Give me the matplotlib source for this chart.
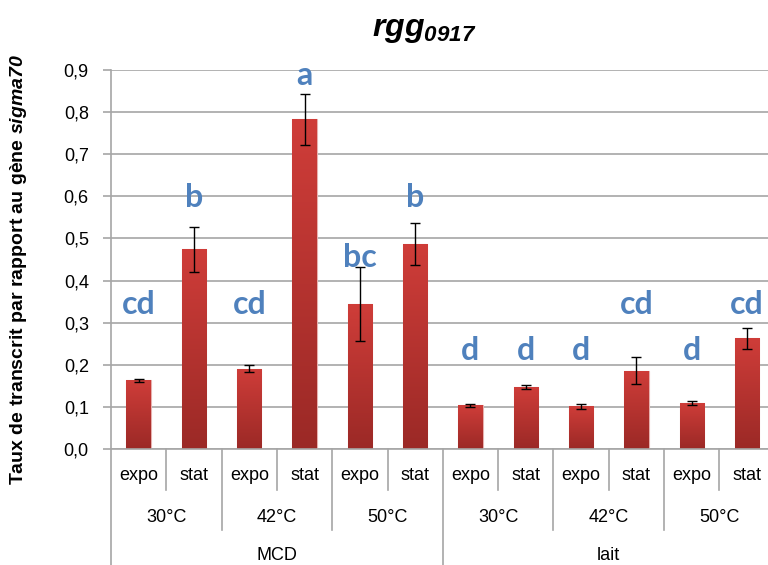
import matplotlib
matplotlib.use("Agg")
import matplotlib.pyplot as plt
import numpy as np
from matplotlib.colors import LinearSegmentedColormap
from matplotlib.ticker import FuncFormatter

plt.rcParams["font.family"] = ["Liberation Sans Narrow", "Liberation Sans", "DejaVu Sans"]
plt.rcParams["mathtext.fontset"] = "custom"
plt.rcParams["mathtext.bfit"] = "Liberation Sans:bold:italic"
plt.rcParams["mathtext.it"] = "Liberation Sans:italic"

# données
phases = ["expo", "stat"] * 6
temps = ["30°C", "42°C", "50°C", "30°C", "42°C", "50°C"]
milieux = ["MCD", "lait"]
values = [0.163, 0.474, 0.191, 0.783, 0.344, 0.486,
          0.104, 0.148, 0.102, 0.186, 0.110, 0.263]
errors = [0.003, 0.054, 0.009, 0.061, 0.088, 0.050,
          0.004, 0.005, 0.006, 0.032, 0.005, 0.025]
letters = ["cd", "b", "cd", "a", "bc", "b", "d", "d", "d", "cd", "d", "cd"]
letter_y = [0.342, 0.598, 0.342, 0.888, 0.454, 0.598,
            0.235, 0.235, 0.235, 0.342, 0.235, 0.342]

fig = plt.figure(figsize=(7.68, 5.65), dpi=100)
ax = fig.add_axes([111 / 768, 1 - 449 / 565, 1 - 111 / 768, 379 / 565])

x = np.arange(len(values))
grid_col = "#a6a6a6"
ax.set_yticks(np.arange(0, 0.91, 0.1))
ax.yaxis.set_major_formatter(FuncFormatter(lambda v, p: f"{v:.1f}".replace(".", ",")))
ax.grid(axis="y", color=grid_col, linewidth=1.2)
ax.set_axisbelow(True)
for s in ["top", "right"]:
    ax.spines[s].set_visible(False)
for s in ["left", "bottom"]:
    ax.spines[s].set_color(grid_col)
    ax.spines[s].set_linewidth(1.2)
ax.tick_params(axis="y", length=6, color=grid_col, width=1.2, labelsize=13, pad=10)
ax.tick_params(axis="x", length=0, labelbottom=False)

# barres avec dégradé
cmap = LinearSegmentedColormap.from_list("rouge", ["#9b2926", "#cf3d39"])
bars = ax.bar(x, values, width=0.44, color="#c0392b", edgecolor="#e7b0ae",
              linewidth=0.8, zorder=2)
grad = np.linspace(0, 1, 256).reshape(-1, 1)
for b in bars:
    im = ax.imshow(grad, cmap=cmap, origin="lower", aspect="auto", zorder=2,
                   extent=[b.get_x(), b.get_x() + b.get_width(), 0, b.get_height()])
    im.set_clip_path(b)
ax.set_xlim(-0.5, 11.38)
ax.set_ylim(0, 0.9)
ax.errorbar(x, values, yerr=errors, fmt="none", ecolor="black", elinewidth=1,
            capsize=3.5, capthick=1, zorder=3)

for xi, lab, ly in zip(x, letters, letter_y):
    ax.text(xi, ly, lab, ha="center", va="center", fontsize=23, fontweight="bold",
            color="#4f81bd", family=["Lato", "DejaVu Sans"], zorder=4)

# axe des x hiérarchique
tr = ax.get_xaxis_transform()
lk = dict(color=grid_col, linewidth=1.2, clip_on=False, transform=tr)
for i in range(len(values)):
    ax.text(i, -0.071, phases[i], ha="center", va="center", fontsize=13, transform=tr)
for j, t in enumerate(temps):
    ax.text(2 * j + 0.5, -0.182, t, ha="center", va="center", fontsize=13, transform=tr)
for k, m in enumerate(milieux):
    ax.text(6 * k + 2.5, -0.28, m, ha="center", va="center", fontsize=13, transform=tr)
for b in np.arange(-0.5, 11.5, 1.0):
    if b == -0.5 or b == 5.5:
        y0 = -0.32
    elif (b + 0.5) % 2 == 0:
        y0 = -0.214
    else:
        y0 = -0.108
    ax.plot([b, b], [0, y0], **lk)

fig.text(424 / 768, 1 - 30 / 565, r"$\mathbfit{rgg}_{\mathbfit{0917}}$",
         ha="center", va="center", fontsize=23)
fig.text(19 / 768, 1 - 270 / 565, r"Taux de transcrit par rapport au gène $\mathbfit{sigma70}$",
         rotation=90, ha="center", va="center", fontsize=14, fontweight="bold",
         family=["Liberation Sans", "DejaVu Sans"])

fig.savefig("out.png", dpi=100)
